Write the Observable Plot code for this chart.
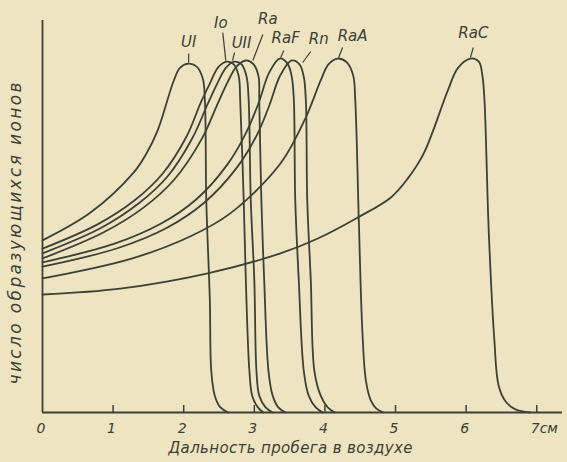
<!DOCTYPE html>
<html><head><meta charset="utf-8">
<script src="https://cdn.jsdelivr.net/npm/d3@7"></script>
<script src="https://cdn.jsdelivr.net/npm/@observablehq/plot@0.6"></script>
<style>
html,body{margin:0;padding:0;background:#eee4c2;}
#chart{width:567px;height:462px;}
</style></head><body><div id="chart"></div>
<script>
// ---- data (range in air, cm ; relative number of ions) ----
const seriesNames = ["UI","Io","UII","Ra","RaF","Rn","RaA","RaC"];
const uiX  = [0, 0.68, 1.29, 1.47, 1.63, 1.86, 1.95, 2.07, 2.18, 2.27, 2.30, 2.32, 2.37, 2.39, 2.44, 2.52, 2.63];
const uiY  = [43.9, 51.0, 61.2, 66.0, 71.9, 84.7, 88.0, 89.0, 88.3, 85.2, 79.6, 54.1, 28.6, 10.7, 4.3, 1.3, 0];
const ioX  = [0, 0.78, 1.31, 1.70, 2.04, 2.24, 2.38, 2.49, 2.61, 2.71, 2.78, 2.80, 2.85, 2.88, 2.93, 2.97, 3.05, 3.13];
const ioY  = [41.8, 48.0, 54.2, 60.9, 70.4, 79.0, 84.3, 88.1, 89.5, 88.8, 85.7, 79.6, 54.1, 33.7, 10.7, 4.3, 1.3, 0];
const uiiX = [0, 0.82, 1.36, 1.77, 2.12, 2.34, 2.48, 2.60, 2.72, 2.82, 2.89, 2.92, 2.95, 3.00, 3.03, 3.07, 3.16, 3.26];
const uiiY = [40.6, 47.0, 53.3, 60.2, 69.9, 78.7, 84.1, 88.0, 89.5, 88.8, 85.7, 79.6, 54.1, 33.7, 10.7, 4.3, 1.3, 0];
const raX  = [0, 0.86, 1.44, 1.87, 2.25, 2.48, 2.62, 2.75, 2.88, 2.99, 3.06, 3.07, 3.10, 3.14, 3.20, 3.26, 3.34, 3.44];
const raY  = [39.3, 45.9, 52.4, 59.5, 69.6, 78.7, 84.2, 88.3, 89.8, 88.8, 85.7, 79.6, 54.1, 33.7, 10.7, 4.3, 1.3, 0];
const rafX = [0, 1.01, 1.68, 2.18, 2.62, 2.89, 3.06, 3.21, 3.36, 3.47, 3.53, 3.56, 3.58, 3.63, 3.70, 3.77, 3.87, 3.97];
const rafY = [38.3, 43.0, 48.2, 54.4, 63.3, 71.6, 78.9, 86.7, 90.3, 89.0, 85.7, 79.6, 54.1, 33.7, 10.7, 4.3, 1.3, 0];
const rnX  = [0, 1.06, 1.77, 2.29, 2.75, 3.04, 3.21, 3.37, 3.53, 3.64, 3.70, 3.73, 3.75, 3.80, 3.85, 3.94, 4.04, 4.14];
const rnY  = [37.2, 41.9, 47.2, 53.5, 62.4, 70.9, 78.2, 86.1, 89.8, 88.8, 85.7, 79.6, 54.1, 33.7, 10.7, 4.3, 1.3, 0];
const raaX = [0, 1.25, 2.09, 2.66, 3.37, 3.73, 3.94, 4.05, 4.18, 4.31, 4.40, 4.43, 4.48, 4.53, 4.58, 4.65, 4.73, 4.83];
const raaY = [34.2, 39.2, 44.9, 50.8, 63.5, 75.3, 84.7, 88.8, 90.3, 89.3, 86.0, 79.6, 49.0, 20.9, 8.2, 3.1, 1.0, 0];
const racX = [0, 1.10, 2.34, 3.37, 3.90, 4.46, 4.93, 5.17, 5.40, 5.74, 5.88, 6.06, 6.18, 6.23, 6.26, 6.32, 6.40, 6.46, 6.56, 6.70, 6.91];
const racY = [30.1, 31.6, 35.5, 40.6, 44.4, 49.7, 54.8, 59.6, 66.1, 82.1, 87.8, 90.3, 89.5, 86.0, 79.6, 46.4, 18.4, 6.9, 2.8, 0.8, 0];
const tickValues = [0, 1, 2, 3, 4, 5, 6, 7];
const tickLabels = ["0", "1", "2", "3", "4", "5", "6", "7см"];
const xTitle = "Дальность пробега в воздухе";
const yTitle = "число образующихся ионов";

// ---- layout / style ----
const W = 567, H = 462, mL = 42, mR = 5, mT = 20, mB = 50;
const xMax = 7.365, yMax = 100;
const ink = "#3c4135";
const font = "DejaVu Sans";
// label leader offsets in px relative to each curve's peak: bottom, top, text
const labelLayout = {
  UI:  {b: [0, -1],  t: [0, -10],  txt: [0, -21]},
  Io:  {b: [-1, -1], t: [-4, -29], txt: [-6, -38]},
  UII: {b: [-2, -1], t: [0, -9],   txt: [7, -18]},
  Ra:  {b: [7, 0],   t: [17, -26], txt: [22, -41]},
  RaF: {b: [1, -1],  t: [4, -8],   txt: [6, -20]},
  Rn:  {b: [11, 2],  t: [19, -9],  txt: [27, -21]},
  RaA: {b: [1, -1],  t: [5, -11],  txt: [15, -22]},
  RaC: {b: [0, -1],  t: [3, -11],  txt: [3, -25]}
};

const seriesX = [uiX, ioX, uiiX, raX, rafX, rnX, raaX, racX];
const seriesY = [uiY, ioY, uiiY, raY, rafY, rnY, raaY, racY];
const rows = seriesNames.flatMap((n, k) => seriesX[k].map((x, i) => ({name: n, x, y: seriesY[k][i]})));

const xs = d3.scaleLinear([0, xMax], [mL, W - mR]);
const ys = d3.scaleLinear([0, yMax], [H - mB, mT]);
const peaks = seriesNames.map((n, k) => {
  const i = d3.maxIndex(seriesY[k]);
  return {name: n, px: xs(seriesX[k][i]), py: ys(seriesY[k][i])};
});
const leaders = peaks.map(p => {
  const L = labelLayout[p.name];
  return {x1: xs.invert(p.px + L.b[0]), y1: ys.invert(p.py + L.b[1]),
          x2: xs.invert(p.px + L.t[0]), y2: ys.invert(p.py + L.t[1])};
});
const labels = peaks.map(p => {
  const L = labelLayout[p.name];
  return {name: p.name, x: xs.invert(p.px + L.txt[0]), y: ys.invert(p.py + L.txt[1])};
});
const tickTop = ys.invert(ys(0) - 7);

const chart = Plot.plot({
  width: W, height: H,
  marginLeft: mL, marginRight: mR, marginTop: mT, marginBottom: mB,
  x: {domain: [0, xMax], axis: null},
  y: {domain: [0, yMax], axis: null},
  style: {background: "#eee4c2", fontFamily: font, overflow: "visible", color: ink},
  marks: [
    Plot.ruleY([0], {stroke: ink, strokeWidth: 1.8}),
    Plot.ruleX([0], {y1: 0, y2: yMax, stroke: ink, strokeWidth: 1.8}),
    Plot.ruleX(tickValues.slice(1), {x: d => d, y1: 0, y2: tickTop, stroke: ink, strokeWidth: 1.5}),
    Plot.text(tickValues, {x: d => d, y: 0, text: (d, i) => tickLabels[i], textAnchor: "start",
      dx: -6, dy: 16, fontSize: 14, fontStyle: "italic", fill: ink}),
    Plot.line(rows, {x: "x", y: "y", z: "name", curve: "catmull-rom", stroke: ink, strokeWidth: 1.8}),
    Plot.link(leaders, {x1: "x1", y1: "y1", x2: "x2", y2: "y2", stroke: ink, strokeWidth: 1.2}),
    Plot.text(labels, {x: "x", y: "y", text: "name", fontSize: 15, fontStyle: "italic", fill: ink}),
    Plot.text([xTitle], {frameAnchor: "bottom", textAnchor: "middle", dx: -12, dy: 40, fontSize: 15, fontStyle: "italic", fill: ink}),
    Plot.text([yTitle], {frameAnchor: "left", textAnchor: "middle", rotate: -90, dx: -27, dy: 17, fontSize: 17, fontStyle: "italic", fill: ink})
  ]
});
// stretch titles to the widths they occupy in the original figure
d3.select(chart).selectAll("text").each(function() {
  const t = this.textContent;
  if (t === yTitle) d3.select(this).attr("textLength", 302).attr("lengthAdjust", "spacing");
  if (t === xTitle) d3.select(this).attr("textLength", 244).attr("lengthAdjust", "spacing");
});
document.getElementById("chart").appendChild(chart);
</script>
</body></html>
